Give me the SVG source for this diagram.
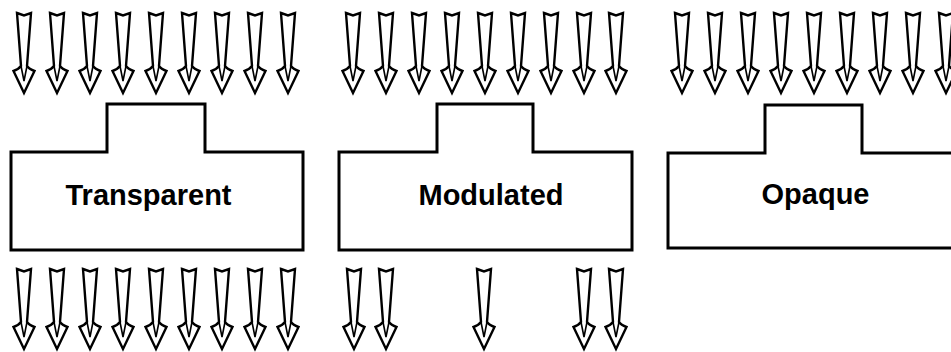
<svg xmlns="http://www.w3.org/2000/svg" xmlns:xlink="http://www.w3.org/1999/xlink" width="951" height="352" viewBox="0 0 951 352">
  <style>
    .box { fill: #ffffff; stroke: #000000; stroke-width: 3; stroke-linejoin: miter; }
    .lbl { font-family: "Liberation Sans", Arial, sans-serif; font-weight: bold; font-size: 29px; fill: #000000; text-anchor: middle; }
    .arr { fill: #ffffff; stroke: #000000; stroke-width: 2.4; stroke-linejoin: miter; stroke-miterlimit: 6; }
    .arrin { fill: none; stroke: #000000; stroke-width: 1.6; }
  </style>
  <defs>
    <g id="arrow">
      <path class="arr" d="M -7,0 L 0,2.5 L 7,0 L 3,53 Q 5,56 10.5,58 L 0,80 L -10.5,58 Q -5,56 -3,53 Z"/>
      <path class="arrin" d="M -3,53 L 0,68 L 3,53"/>
    </g>
  </defs>
  <rect width="951" height="352" fill="#ffffff"/>

  <g id="connectors">
    <g id="top-arrows-1" transform="translate(0,13)">
      <use xlink:href="#arrow" x="24"/>
      <use xlink:href="#arrow" x="57"/>
      <use xlink:href="#arrow" x="90"/>
      <use xlink:href="#arrow" x="123"/>
      <use xlink:href="#arrow" x="156"/>
      <use xlink:href="#arrow" x="189"/>
      <use xlink:href="#arrow" x="222"/>
      <use xlink:href="#arrow" x="255"/>
      <use xlink:href="#arrow" x="288"/>
    </g>
    <g id="top-arrows-2" transform="translate(0,13)">
      <use xlink:href="#arrow" x="353"/>
      <use xlink:href="#arrow" x="386"/>
      <use xlink:href="#arrow" x="419"/>
      <use xlink:href="#arrow" x="452"/>
      <use xlink:href="#arrow" x="485"/>
      <use xlink:href="#arrow" x="518"/>
      <use xlink:href="#arrow" x="551"/>
      <use xlink:href="#arrow" x="584"/>
      <use xlink:href="#arrow" x="616"/>
    </g>
    <g id="top-arrows-3" transform="translate(0,13)">
      <use xlink:href="#arrow" x="682"/>
      <use xlink:href="#arrow" x="715"/>
      <use xlink:href="#arrow" x="748"/>
      <use xlink:href="#arrow" x="781"/>
      <use xlink:href="#arrow" x="814"/>
      <use xlink:href="#arrow" x="847"/>
      <use xlink:href="#arrow" x="880"/>
      <use xlink:href="#arrow" x="913"/>
      <use xlink:href="#arrow" x="946"/>
    </g>
    <g id="bottom-arrows-1" transform="translate(0,269)">
      <use xlink:href="#arrow" x="24"/>
      <use xlink:href="#arrow" x="57"/>
      <use xlink:href="#arrow" x="90"/>
      <use xlink:href="#arrow" x="123"/>
      <use xlink:href="#arrow" x="156"/>
      <use xlink:href="#arrow" x="189"/>
      <use xlink:href="#arrow" x="222"/>
      <use xlink:href="#arrow" x="255"/>
      <use xlink:href="#arrow" x="288"/>
    </g>
    <g id="bottom-arrows-2" transform="translate(0,269)">
      <use xlink:href="#arrow" x="354"/>
      <use xlink:href="#arrow" x="386"/>
      <use xlink:href="#arrow" x="484"/>
      <use xlink:href="#arrow" x="584"/>
      <use xlink:href="#arrow" x="616"/>
    </g>
  </g>

  <g id="node-transparent">
    <path class="box" d="M 11,152 L 107,152 L 107,104 L 205,104 L 205,152 L 303,152 L 303,250 L 11,250 Z"/>
    <text class="lbl" x="148.5" y="205">Transparent</text>
  </g>
  <g id="node-modulated">
    <path class="box" d="M 339,152 L 437,152 L 437,104 L 533,104 L 533,152 L 632,152 L 632,250 L 339,250 Z"/>
    <text class="lbl" x="491" y="205">Modulated</text>
  </g>
  <g id="node-opaque">
    <path class="box" d="M 668,153 L 765,153 L 765,105 L 862,105 L 862,153 L 960,153 L 960,248 L 668,248 Z"/>
    <text class="lbl" x="815.5" y="204">Opaque</text>
  </g>
</svg>
